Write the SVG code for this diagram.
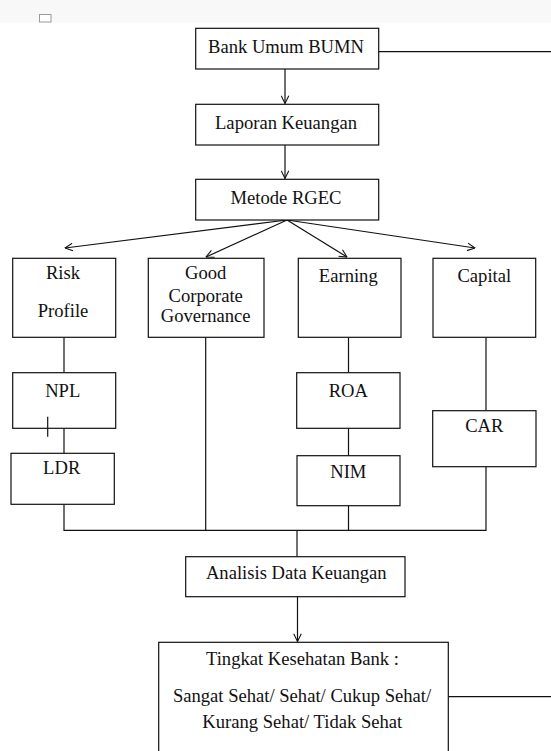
<svg xmlns="http://www.w3.org/2000/svg" width="551" height="751" viewBox="0 0 551 751" font-family="'Liberation Serif', 'Times New Roman', serif">
<defs>
<marker id="arr" viewBox="0 0 10 10" refX="9.5" refY="5" markerWidth="9" markerHeight="9" markerUnits="userSpaceOnUse" orient="auto">
<path d="M1,0.8 L9.5,5 L1,9.2" fill="none" stroke="#111" stroke-width="1.2"/>
</marker>
<style>
.box{fill:#fff;stroke:#111;stroke-width:1.2}
.ln{fill:none;stroke:#111;stroke-width:1.2}
text{font-family:'Liberation Serif',serif;font-size:18.6px;fill:#111;text-anchor:middle}
</style>
</defs>
<rect x="0" y="0" width="551" height="751" fill="#fff"/>
<rect x="0" y="0" width="551" height="22.5" fill="#f8f8f8"/>
<rect x="39.5" y="14.5" width="11.5" height="7.5" fill="#fff" stroke="#9a9a9a" stroke-width="1"/>

<g id="connectors">
<line class="ln" x1="379" y1="51.7" x2="551" y2="51.7"/>
<line class="ln" x1="285" y1="69" x2="285" y2="103.5" marker-end="url(#arr)"/>
<line class="ln" x1="285" y1="145" x2="285" y2="178.5" marker-end="url(#arr)"/>
<line class="ln" x1="287" y1="220" x2="65" y2="248" marker-end="url(#arr)"/>
<line class="ln" x1="287" y1="220" x2="206" y2="257" marker-end="url(#arr)"/>
<line class="ln" x1="287" y1="220" x2="347" y2="257" marker-end="url(#arr)"/>
<line class="ln" x1="287" y1="220" x2="475" y2="248" marker-end="url(#arr)"/>
<line class="ln" x1="64" y1="337.3" x2="64" y2="372.7"/>
<line class="ln" x1="64" y1="428.3" x2="64" y2="453.3"/>
<line class="ln" x1="348.5" y1="337.3" x2="348.5" y2="372.7"/>
<line class="ln" x1="348.5" y1="428.3" x2="348.5" y2="455.7"/>
<line class="ln" x1="486" y1="337.3" x2="486" y2="410.7"/>
<polyline class="ln" points="64,504.3 64,530.3 486,530.3 486,466.7"/>
<line class="ln" x1="205.7" y1="337.3" x2="205.7" y2="530.3"/>
<line class="ln" x1="348.5" y1="505.7" x2="348.5" y2="530.3"/>
<line class="ln" x1="297" y1="530.3" x2="297" y2="556.7"/>
<line class="ln" x1="297.5" y1="596.7" x2="297.5" y2="641.5" marker-end="url(#arr)"/>
<line class="ln" x1="448.3" y1="696.7" x2="551" y2="696.7"/>
</g>

<g id="bank"><rect class="box" x="195.7" y="28.3" width="183" height="40.7"/><text x="286" y="53.3">Bank Umum BUMN</text></g>
<g id="laporan"><rect class="box" x="195.7" y="104.3" width="183" height="40.7"/><text x="286" y="129">Laporan Keuangan</text></g>
<g id="rgec"><rect class="box" x="195.7" y="179.3" width="183" height="40.7"/><text x="286" y="204">Metode RGEC</text></g>

<g id="risk"><rect class="box" x="12.7" y="258.3" width="103" height="79"/><text x="63" y="279.3">Risk</text><text x="63" y="316.7">Profile</text></g>
<g id="gcg"><rect class="box" x="148.3" y="258.3" width="115.7" height="79"/><text x="205.7" y="279.3">Good</text><text x="205.7" y="302.3">Corporate</text><text x="205.7" y="321.7">Governance</text></g>
<g id="earning"><rect class="box" x="298.3" y="258.3" width="102.7" height="79"/><text x="348.3" y="282.3">Earning</text></g>
<g id="capital"><rect class="box" x="433" y="258.3" width="102.7" height="79"/><text x="484.3" y="281.7">Capital</text></g>

<g id="npl"><rect class="box" x="12.7" y="372.7" width="103" height="55.6"/><text x="62.7" y="397.3">NPL</text><line class="ln" x1="47.7" y1="416.7" x2="47.7" y2="436.7"/></g>
<g id="ldr"><rect class="box" x="11" y="453.3" width="103.3" height="51"/><text x="61.7" y="474.3">LDR</text></g>
<g id="roa"><rect class="box" x="296.7" y="372.7" width="103.3" height="55.6"/><text x="348.3" y="396.7">ROA</text></g>
<g id="nim"><rect class="box" x="297" y="455.7" width="103" height="50"/><text x="348.3" y="477.7">NIM</text></g>
<g id="car"><rect class="box" x="432.7" y="410.7" width="103.3" height="56"/><text x="484.3" y="431.7">CAR</text></g>

<g id="analisis"><rect class="box" x="185.7" y="556.7" width="219.3" height="40"/><text x="296.3" y="579.3">Analisis Data Keuangan</text></g>
<g id="tingkat"><rect class="box" x="158.7" y="642.3" width="289.6" height="120"/><text x="302.5" y="665">Tingkat Kesehatan Bank :</text><text x="302" y="702.3">Sangat Sehat/ Sehat/ Cukup Sehat/</text><text x="302.3" y="728.3">Kurang Sehat/ Tidak Sehat</text></g>
</svg>
